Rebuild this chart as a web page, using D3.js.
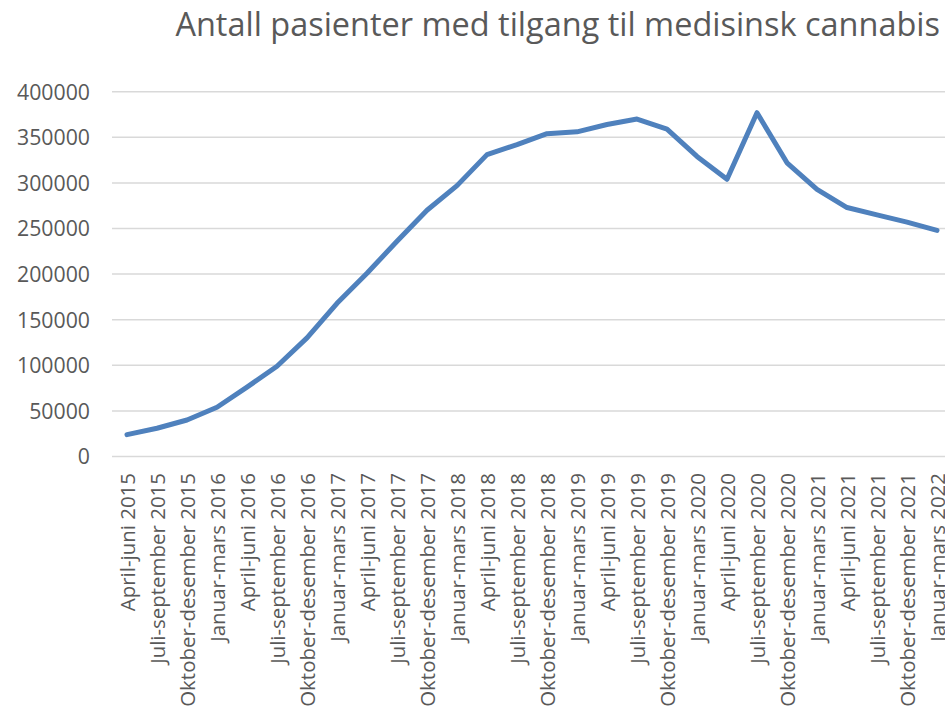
<!DOCTYPE html>
<html>
<head>
<meta charset="utf-8">
<script src="https://cdn.jsdelivr.net/npm/d3@7"></script>
<style>
  body { margin: 0; background: #fff; overflow: hidden; }
  text { font-family: "Open Sans", sans-serif; fill: #595959; }
</style>
</head>
<body>
<script>
var WIDTH = 945;
var HEIGHT = 711;

var TITLE = 'Antall pasienter med tilgang til medisinsk cannabis';

var quarters = [
    'April-juni 2015', 'Juli-september 2015', 'Oktober-desember 2015',
    'Januar-mars 2016', 'April-juni 2016', 'Juli-september 2016', 'Oktober-desember 2016',
    'Januar-mars 2017', 'April-juni 2017', 'Juli-september 2017', 'Oktober-desember 2017',
    'Januar-mars 2018', 'April-juni 2018', 'Juli-september 2018', 'Oktober-desember 2018',
    'Januar-mars 2019', 'April-juni 2019', 'Juli-september 2019', 'Oktober-desember 2019',
    'Januar-mars 2020', 'April-juni 2020', 'Juli-september 2020', 'Oktober-desember 2020',
    'Januar-mars 2021', 'April-juni 2021', 'Juli-september 2021', 'Oktober-desember 2021',
    'Januar-mars 2022'
];

var patients = [
    24000, 31000, 40000,
    54000, 76000, 99000, 130000,
    168000, 201000, 236000, 270000,
    297000, 331000, 342000, 354000,
    356000, 364000, 370000, 359000,
    329000, 304000, 377000, 322000,
    293000, 273000, 265000, 257000,
    248000
];

var yTicks = [0, 50000, 100000, 150000, 200000, 250000, 300000, 350000, 400000];

var COLOR_LINE = '#4f81bd';
var COLOR_GRID = '#d9d9d9';

// shrink/grow a text so that it is as wide as in the picture
function fitWidth(sel, target) {
    var node = sel.node();
    var fs = parseFloat(sel.style('font-size'));
    var w = node.getComputedTextLength();
    return fs * target / w;
}

var svg = d3.select('body')
    .append('svg')
        .attr('width', WIDTH)
        .attr('height', HEIGHT);

var x = d3.scalePoint()
    .domain(quarters)
    .range([127, 937]);

var y = d3.scaleLinear()
    .domain([0, 400000])
    .range([456.5, 91.7]);

// title
var title = svg.append('text')
    .attr('x', 940)
    .attr('y', 36)
    .attr('text-anchor', 'end')
    .style('font-size', '30px')
    .text(TITLE);
title.style('font-size', fitWidth(title, 765) + 'px');

// gridlines
svg.append('g')
    .selectAll('line')
    .data(yTicks)
    .enter()
    .append('line')
        .attr('x1', 112)
        .attr('x2', 945)
        .attr('y1', function (d) { return y(d); })
        .attr('y2', function (d) { return y(d); })
        .style('stroke', COLOR_GRID)
        .style('stroke-width', 1.5);

// y axis labels
var yAxis = d3.axisLeft(y)
    .tickValues(yTicks)
    .tickSize(0)
    .tickPadding(0)
    .tickFormat(function (d) { return String(d); });

var gy = svg.append('g')
    .attr('transform', 'translate(90,0)')
    .call(yAxis);
gy.select('.domain').remove();
var yText = gy.selectAll('text')
    .attr('dy', '0.35em')
    .style('font-size', '19px')
    .style('font-family', '"Open Sans", sans-serif')
    .style('fill', '#595959');
var yFs = fitWidth(gy.selectAll('text').filter(function (d) { return d == 400000; }), 73);
yText.style('font-size', yFs + 'px');

// x axis labels
var xAxis = d3.axisBottom(x).tickSize(0).tickPadding(0);
var gx = svg.append('g')
    .attr('transform', 'translate(0,473)')
    .call(xAxis);
gx.select('.domain').remove();
var xText = gx.selectAll('text')
    .attr('transform', 'rotate(-90)')
    .attr('x', 0)
    .attr('y', 0)
    .attr('dy', '0.35em')
    .attr('text-anchor', 'end')
    .style('font-size', '17px')
    .style('font-family', '"Open Sans", sans-serif')
    .style('fill', '#595959');
var xFs = fitWidth(gx.selectAll('text').filter(function (d) { return d == 'Oktober-desember 2015'; }), 234);
xText.style('font-size', xFs + 'px');

// line
var line = d3.line()
    .x(function (d, i) { return x(quarters[i]); })
    .y(function (d) { return y(d); });

svg.append('path')
    .datum(patients)
    .attr('d', line)
    .style('fill', 'none')
    .style('stroke', COLOR_LINE)
    .style('stroke-width', 5)
    .style('stroke-linejoin', 'round')
    .style('stroke-linecap', 'round');
</script>
</body>
</html>
